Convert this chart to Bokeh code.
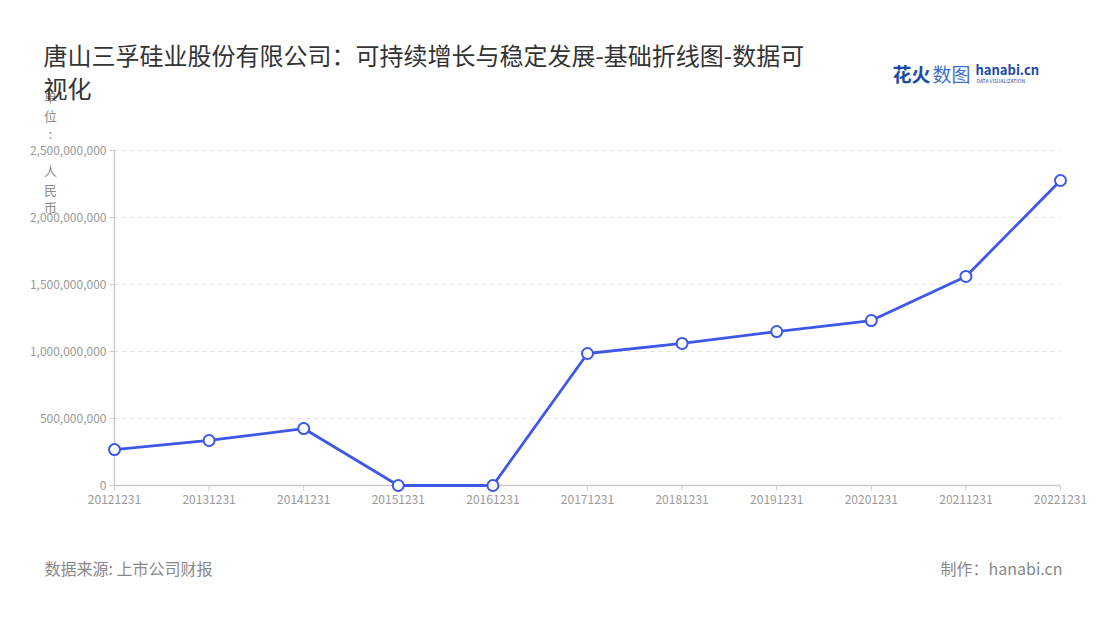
from bokeh.plotting import figure
from bokeh.models import Range1d, Label, ColumnDataSource
from bokeh.core.properties import value
from bokeh.embed import file_html
from bokeh.resources import INLINE

# ---------------- data ----------------
dates = ["20121231", "20131231", "20141231", "20151231", "20161231", "20171231",
         "20181231", "20191231", "20201231", "20211231", "20221231"]
values = [268000000, 336000000, 425000000, 0, 0, 985000000,
          1060000000, 1149000000, 1231000000, 1560000000, 2276000000]
y_ticks = [0, 500000000, 1000000000, 1500000000, 2000000000, 2500000000]
y_tick_labels = ["0", "500,000,000", "1,000,000,000", "1,500,000,000",
                 "2,000,000,000", "2,500,000,000"]

title_line1 = "唐山三孚硅业股份有限公司：可持续增长与稳定发展-基础折线图-数据可"
title_line2 = "视化"
y_label = "单位: 人民币"
source_text = "数据来源: 上市公司财报"
maker_text = "制作：hanabi.cn"

# ---------------- layout (page pixels) ----------------
W, H = 1100, 620
PL, PT, PR, PB = 114, 150, 1060, 485          # plot area edges
FONT = "Noto Sans CJK SC"
n = len(dates)
y_max = y_ticks[-1]
kx = (PR - PL) / (n - 1)                      # px per x unit
ky = (PB - PT) / y_max                        # px per y unit

x_range = Range1d(-PL / kx, (n - 1) + (W - PR) / kx)
y_range = Range1d(-(H - PB) / ky, y_max + PT / ky)

p = figure(width=W, height=H, output_backend="svg", toolbar_location=None,
           x_range=x_range, y_range=y_range, x_axis_type=None, y_axis_type=None,
           min_border=0, min_border_left=0, min_border_right=0,
           min_border_top=0, min_border_bottom=0)
p.outline_line_color = None
p.grid.visible = False
p.background_fill_color = "white"
p.border_fill_color = "white"

xs = list(range(n))
AXIS_C = "#cccccc"
LABEL_C = "#999999"
TICK = 5

# horizontal dashed grid (skip baseline)
p.segment(x0=[0] * (len(y_ticks) - 1), x1=[n - 1] * (len(y_ticks) - 1),
          y0=y_ticks[1:], y1=y_ticks[1:], line_color="#e0e0e0", line_width=1,
          line_dash="4 4")

# axis lines
p.segment(x0=[0, 0], y0=[0, 0], x1=[0, n - 1], y1=[y_max, 0],
          line_color=AXIS_C, line_width=1.5)
# y ticks
p.segment(x0=[-TICK / kx] * len(y_ticks), x1=[0] * len(y_ticks),
          y0=y_ticks, y1=y_ticks, line_color=AXIS_C, line_width=1)
# x ticks
p.segment(x0=xs, x1=xs, y0=[0] * n, y1=[-TICK / ky] * n,
          line_color=AXIS_C, line_width=1)

# tick labels
p.text(x=[-TICK / kx] * len(y_ticks), y=y_ticks, text=y_tick_labels,
       x_offset=-3, text_align="right", text_baseline="middle",
       text_font=value(FONT), text_font_size="12px", text_color=LABEL_C)
p.text(x=xs, y=[0] * n, text=dates, y_offset=14,
       text_align="center", text_baseline="middle",
       text_font=value(FONT), text_font_size="12px", text_color=LABEL_C)

# data line
src = ColumnDataSource(dict(x=xs, y=values))
p.line("x", "y", source=src, line_color="#3d57e9", line_width=2.8)
p.scatter("x", "y", source=src, size=11, fill_color="white",
          line_color="#3d57e9", line_width=2)


def lab(text, px, py, size, color, align="left", style="normal", baseline="middle"):
    p.add_layout(Label(x=px, y=H - py, x_units="screen", y_units="screen",
                       text=text, text_font=FONT, text_font_size=size, text_color=color,
                       text_align=align, text_baseline=baseline, text_font_style=style))


# vertical y label (drawn first so the title overlaps it as in the reference)
for i, ch in enumerate(y_label):
    if ch.strip():
        lab(ch, 50, 96 + i * 18.5, "13px", "#8a8a8a", align="center")

# title
lab(title_line1, 43, 54, "24px", "#333333")
lab(title_line2, 43, 87, "24px", "#333333")

# logo
lab("花火", 892, 73, "19px", "#1a4aa8", style="bold")
lab("数图", 932, 73, "19px", "#3f6fc8")
lab("hanabi.cn", 975, 69, "13px", "#1a4aa8", style="bold")
lab("DATA VISUALIZATION", 976, 80, "5px", "#1a4aa8")

# footer
lab(source_text, 44, 567, "16px", "#888888")
lab(maker_text, 1062, 567, "16px", "#888888", align="right")

open("out.html", "w").write(file_html(p, INLINE))
